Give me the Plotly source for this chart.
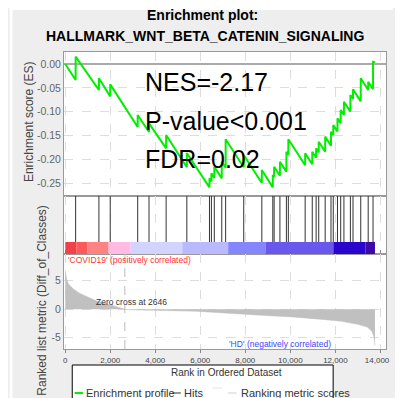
import plotly.graph_objects as go

# ---------------- data ----------------
hit_ranks = [461, 1495, 1998, 3218, 3721, 4482, 5401, 6407, 6493, 6622, 6953, 7125,
             7929, 8733, 9221, 9279, 9537, 9825, 9911, 10658, 10974, 11146, 11261,
             11548, 11806, 11907, 12094, 12237, 12381, 12668, 12784, 13128, 13459, 13674]
es_before_hit = [-0.0335, -0.0545, -0.0678, -0.1321, -0.1426, -0.1768, -0.2166, -0.2586,
                 -0.2460, -0.2390, -0.2397, -0.2173, -0.2166, -0.2495, -0.2586, -0.2369,
                 -0.2341, -0.2257, -0.1901, -0.2124, -0.2103, -0.1964, -0.1852, -0.1838,
                 -0.1712, -0.1492, -0.1415, -0.1244, -0.1069, -0.0999, -0.0734, -0.0783,
                 -0.0545, -0.0528]
es_after_hit = [0.0154, -0.0300, -0.0426, -0.1069, -0.1244, -0.1488, -0.1866, -0.2397,
                -0.2292, -0.2152, -0.2048, -0.1579, -0.1908, -0.2222, -0.2327, -0.2152,
                -0.2048, -0.1838, -0.1579, -0.1873, -0.1838, -0.1768, -0.1628, -0.1523,
                -0.1419, -0.1279, -0.1139, -0.0964, -0.0790, -0.0650, -0.0531, -0.0300,
                -0.0370, 0.0049]
es_start = (0, 0.0)
es_end = (13760, 0.0040)

metric_rank = [0, 57, 130, 345, 633, 1064, 1423, 2070, 2646, 2930, 5804, 8677, 10112,
               11547, 12266, 12985, 13416, 13632, 13720, 13760]
metric_value = [6.8, 5.4, 4.5, 3.6, 2.8, 2.0, 1.4, 0.7, 0.0, -0.1, -0.35, -1.06, -1.36,
                -1.83, -2.12, -2.65, -3.13, -3.89, -4.9, -6.4]
zero_cross = 2646

bar_edges = [0, 491, 991, 1926, 2904, 5200, 7238, 8893, 11909, 13343, 13760]
bar_colors = ["#f0414b", "#ff5858", "#ff8282", "#ffbbe3", "#d3d3ff", "#b9b9ff",
              "#8585ff", "#6a58ee", "#2a05cc", "#3d0aa8"]

x_ticks = [0, 2000, 4000, 6000, 8000, 10000, 12000, 14000]
x_tick_text = ["0", "2,000", "4,000", "6,000", "8,000", "10,000", "12,000",
               "14,000\u00a0\u00a0\u00a0"]
es_ticks = [0.0, -0.05, -0.10, -0.15, -0.20, -0.25]
es_tick_text = ["0.00", "-0.05", "-0.10", "-0.15", "-0.20", "-0.25"]
metric_ticks = [5, 0, -5]
metric_tick_text = ["5", "0", "-5"]

stats_text = ["NES=-2.17", "P-value<0.001", "FDR=0.02"]

# ---------------- layout geometry (page pixels) ----------------
PAGE_W, PAGE_H = 403, 398
OFF = 8                      # default body margin of the html page
W, H = PAGE_W - OFF, PAGE_H - OFF
PL, PR, PT, PB = 64, 396, 52, 349     # plot area in page pixels
TOP_B, HIT_B = 196, 254
L, R, T, B = PL - OFF, W - (PR - OFF), PT - OFF, H - (PB - OFF)
PW, PH = W - L - R, H - T - B


def px_x(px):
    return (px - PL) / PW


def px_y(py):
    return (PB - py) / PH


FONT = "Liberation Sans, Arial, sans-serif"

# ES path
es_x = [es_start[0]]
es_y = [es_start[1]]
for r, a, b in zip(hit_ranks, es_before_hit, es_after_hit):
    es_x += [r, r]
    es_y += [a, b]
es_x.append(es_end[0])
es_y.append(es_end[1])

# Hits
hx, hy = [], []
for r in hit_ranks:
    hx += [r, r, None]
    hy += [0.207, 1.0, None]

fig = go.Figure()
fig.add_trace(go.Scatter(x=es_x, y=es_y, mode="lines", xaxis="x", yaxis="y",
                         line=dict(color="#00ee00", width=2), hoverinfo="skip"))
fig.add_trace(go.Scatter(x=hx, y=hy, mode="lines", xaxis="x", yaxis="y2",
                         line=dict(color="#333333", width=1), hoverinfo="skip"))
fig.add_trace(go.Scatter(x=metric_rank, y=metric_value, mode="lines", xaxis="x", yaxis="y3",
                         fill="tozeroy", fillcolor="#c0c0c0",
                         line=dict(color="#c0c0c0", width=0.5), hoverinfo="skip"))

shapes = []
for i, c in enumerate(bar_colors):
    shapes.append(dict(type="rect", xref="x", yref="y2", x0=bar_edges[i], x1=bar_edges[i + 1],
                       y0=0, y1=0.207, fillcolor=c, line=dict(width=0), layer="above"))
shapes.append(dict(type="line", xref="x", yref="y3 domain", x0=zero_cross, x1=zero_cross,
                   y0=0, y1=1, line=dict(color="#bbbbbb", width=1, dash="dash")))
# white strips at the left / top of the picture
shapes.append(dict(type="rect", xref="paper", yref="paper", x0=px_x(OFF), x1=px_x(11),
                   y0=px_y(PAGE_H), y1=px_y(OFF), fillcolor="white", line=dict(width=0),
                   layer="below"))
shapes.append(dict(type="rect", xref="paper", yref="paper", x0=px_x(OFF), x1=px_x(PAGE_W),
                   y0=px_y(10), y1=px_y(OFF), fillcolor="white", line=dict(width=0),
                   layer="below"))
# legend box
shapes.append(dict(type="rect", xref="paper", yref="paper", x0=px_x(72.5), x1=px_x(341.5),
                   y0=px_y(405), y1=px_y(365), fillcolor="white",
                   line=dict(color="black", width=1)))
shapes.append(dict(type="line", xref="paper", yref="paper", x0=px_x(75), x1=px_x(83.5),
                   y0=px_y(393), y1=px_y(393), line=dict(color="#00ee00", width=2)))
shapes.append(dict(type="line", xref="paper", yref="paper", x0=px_x(175.5), x1=px_x(184.5),
                   y0=px_y(393), y1=px_y(393), line=dict(color="#333333", width=1)))
shapes.append(dict(type="line", xref="paper", yref="paper", x0=px_x(217), x1=px_x(227),
                   y0=px_y(388), y1=px_y(388), line=dict(color="#e6e6e6", width=1)))
shapes.append(dict(type="line", xref="paper", yref="paper", x0=px_x(233), x1=px_x(242),
                   y0=px_y(393), y1=px_y(393), line=dict(color="#d0d0d0", width=1)))

ann = []
ann.append(dict(text="<b>Enrichment plot:</b>", xref="paper", yref="paper", x=px_x(207),
                y=px_y(15), xanchor="center", yanchor="middle", showarrow=False,
                font=dict(family=FONT, size=14, color="black")))
ann.append(dict(text="<b>HALLMARK_WNT_BETA_CATENIN_SIGNALING</b>", xref="paper", yref="paper",
                x=px_x(209), y=px_y(36), xanchor="center", yanchor="middle", showarrow=False,
                font=dict(family=FONT, size=14, color="black")))
for txt, yy in zip(stats_text, [82, 121, 159]):
    ann.append(dict(text=txt, xref="paper", yref="paper", x=px_x(145), y=px_y(yy),
                    xanchor="left", yanchor="middle", showarrow=False,
                    font=dict(family=FONT, size=25, color="black")))
ann.append(dict(text="Enrichment score (ES)", xref="paper", yref="paper", x=px_x(28),
                y=px_y(122), xanchor="center", yanchor="middle", textangle=-90, showarrow=False,
                font=dict(family=FONT, size=12, color="#444444")))
ann.append(dict(text="Ranked list metric (Diff_of_Classes)", xref="paper", yref="paper",
                x=px_x(41), y=px_y(300), xanchor="center", yanchor="middle", textangle=-90,
                showarrow=False, font=dict(family=FONT, size=12, color="#444444")))
ann.append(dict(text="Rank in Ordered Dataset", xref="paper", yref="paper", x=px_x(232),
                y=px_y(372), xanchor="center", yanchor="middle", showarrow=False,
                font=dict(family=FONT, size=10, color="#333333")))
ann.append(dict(text="'COVID19' (positively correlated)", xref="paper", yref="paper",
                x=px_x(66), y=px_y(260), xanchor="left", yanchor="middle", showarrow=False,
                font=dict(family=FONT, size=8.5, color="#ff3333")))
ann.append(dict(text="'HD' (negatively correlated)", xref="paper", yref="paper",
                x=px_x(232), y=px_y(344), xanchor="left", yanchor="middle", showarrow=False,
                font=dict(family=FONT, size=8.5, color="#4444ff")))
ann.append(dict(text="Zero cross at %d" % zero_cross, xref="paper", yref="paper",
                x=px_x(95), y=px_y(301.5), xanchor="left", yanchor="middle", showarrow=False,
                font=dict(family=FONT, size=8.5, color="#333333")))
for txt, xx in [("Enrichment profile", 85), ("Hits", 185.5), ("Ranking metric scores", 244.5)]:
    ann.append(dict(text=txt, xref="paper", yref="paper", x=px_x(xx), y=px_y(393),
                    xanchor="left", yanchor="middle", showarrow=False,
                    font=dict(family=FONT, size=11, color="#333333")))

grid = dict(showgrid=True, gridcolor="#dddddd", griddash="dash", gridwidth=1)

fig.update_layout(
    width=W, height=H, autosize=False,
    margin=dict(l=L, r=R, t=T, b=B, pad=0),
    paper_bgcolor="#eeeeee", plot_bgcolor="white",
    showlegend=False,
    font=dict(family=FONT, size=10, color="#555555"),
    xaxis=dict(domain=[0, 1], range=[-56, 14250], anchor="y3", tickvals=x_ticks,
               ticktext=x_tick_text, ticks="outside", ticklen=3, tickcolor="#888888",
               tickfont=dict(size=8, color="#444444"), ticklabeloverflow="allow",
               showline=True, linecolor="#999999",
               mirror="all", zeroline=False, **grid),
    yaxis=dict(domain=[px_y(TOP_B), 1], range=[-0.2767, 0.0252], tickvals=es_ticks,
               ticktext=es_tick_text, ticks="", tickfont=dict(size=10.5, color="#666666"),
               showline=True, linecolor="#999999", mirror=True, zeroline=True,
               zerolinecolor="#aaaaaa", zerolinewidth=2, **grid),
    yaxis2=dict(domain=[px_y(HIT_B), px_y(TOP_B)], range=[0, 1], showticklabels=False,
                ticks="", showgrid=False, zeroline=False, showline=True,
                linecolor="#999999", mirror=True),
    yaxis3=dict(domain=[0, px_y(HIT_B)], range=[-6.98, 9.7], tickvals=metric_ticks,
                ticktext=metric_tick_text, ticks="", tickfont=dict(size=10.5, color="#666666"),
                showline=True, linecolor="#999999", mirror=True, zeroline=False, **grid),
    shapes=shapes,
    annotations=ann,
)

fig.write_html("out.html")
